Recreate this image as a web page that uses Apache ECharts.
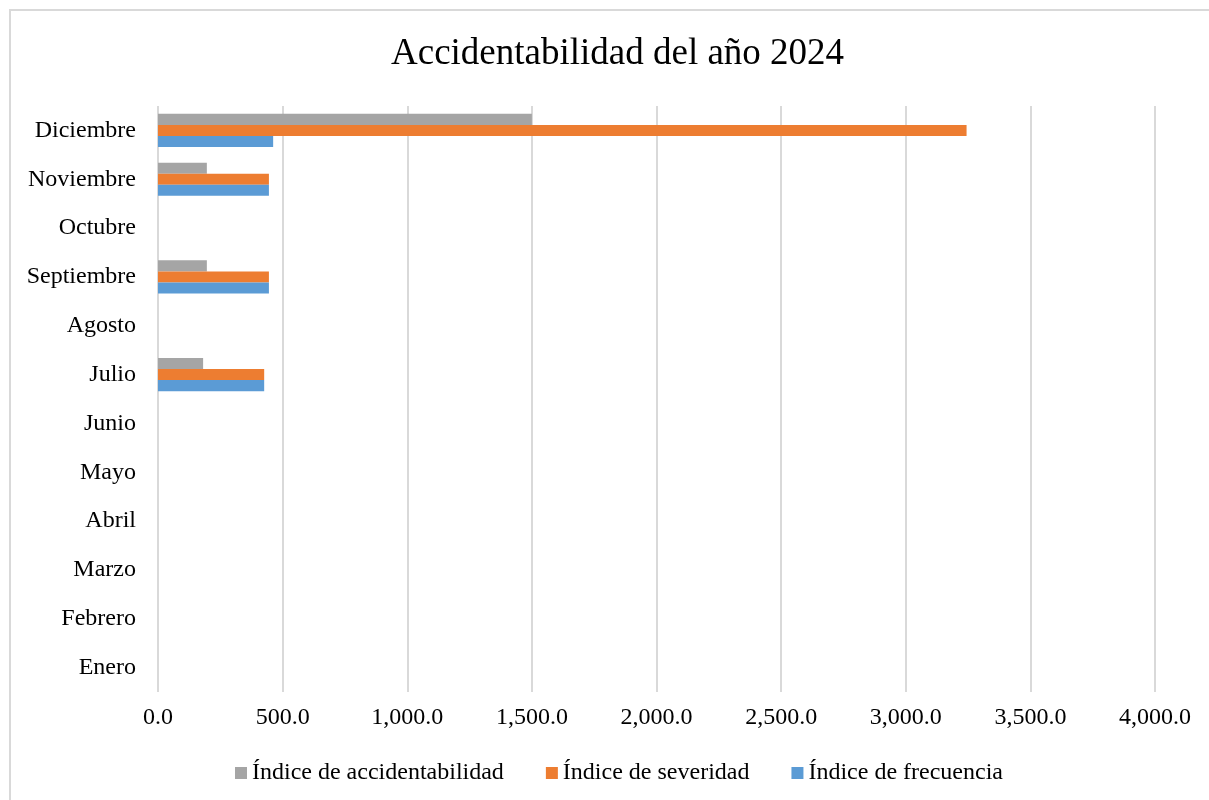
<!DOCTYPE html>
<html>
<head>
<meta charset="utf-8">
<script src="https://cdn.jsdelivr.net/npm/echarts@6/dist/echarts.min.js"></script>
<style>
  html, body { margin: 0; padding: 0; background: #fff; }
  #chart { width: 1209px; height: 800px; }
</style>
</head>
<body>
<div id="chart"></div>
<script>
// Months, bottom to top on the category axis
const months = ['Enero', 'Febrero', 'Marzo', 'Abril', 'Mayo', 'Junio', 'Julio',
  'Agosto', 'Septiembre', 'Octubre', 'Noviembre', 'Diciembre'];

const seriesNames = ['Índice de accidentabilidad', 'Índice de severidad', 'Índice de frecuencia'];

// null = no value recorded for that month
const accidentabilidad = [null, null, null, null, null, null, 181, null, 196, null, 196, 1500];
const severidad        = [null, null, null, null, null, null, 426, null, 445, null, 445, 3244];
const frecuencia       = [null, null, null, null, null, null, 426, null, 445, null, 445, 462];

const colors = ['#a5a5a5', '#ed7d31', '#5b9bd5'];
const serif = '"Liberation Serif", "Times New Roman", serif';

const fmt = v => Number(v).toLocaleString('en-US', { minimumFractionDigits: 1, maximumFractionDigits: 1 });

const chart = echarts.init(document.getElementById('chart'));
const values = [accidentabilidad, severidad, frecuencia];

chart.setOption({
  animation: false,
  backgroundColor: '#fff',
  title: {
    text: 'Accidentabilidad del año 2024',
    left: 386,
    top: 31,
    textStyle: { fontFamily: serif, fontSize: 37, fontWeight: 'normal', color: '#000' }
  },
  legend: {
    data: seriesNames,
    top: 756,
    left: 230,
    itemWidth: 12,
    itemHeight: 12,
    itemGap: 42,
    icon: 'rect',
    textStyle: { fontFamily: serif, fontSize: 24, color: '#000' }
  },
  grid: { left: 158, right: 54, top: 106, bottom: 108, containLabel: false },
  xAxis: {
    type: 'value',
    min: 0,
    max: 4000,
    interval: 500,
    axisLine: { show: false },
    axisTick: { show: false },
    splitLine: { lineStyle: { color: '#d9d9d9', width: 2 } },
    axisLabel: { formatter: fmt, fontFamily: serif, fontSize: 24, color: '#000', margin: 14 }
  },
  yAxis: {
    type: 'category',
    data: months,
    axisLine: { show: false },
    axisTick: { show: false },
    axisLabel: { fontFamily: serif, fontSize: 24, color: '#000', margin: 22 }
  },
  graphic: [{
    type: 'rect',
    shape: { x: 10, y: 10, width: 1300, height: 900 },
    style: { fill: 'none', stroke: '#d9d9d9', lineWidth: 2 },
    silent: true
  }],
  // first series is drawn at the top of each month's group
  series: values.map((vals, i) => ({
    name: seriesNames[i],
    type: 'bar',
    data: vals,
    barGap: '0%',
    barCategoryGap: '32%',
    itemStyle: { color: colors[i] }
  }))
});
</script>
</body>
</html>
